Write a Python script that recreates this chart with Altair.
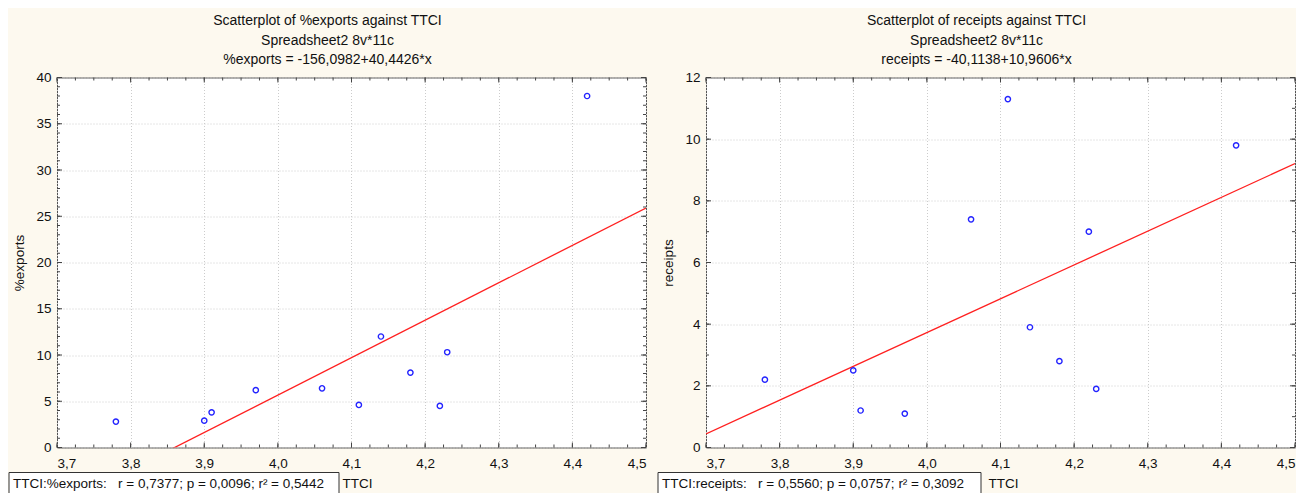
import altair as alt
import pandas as pd
import numpy as np

# ---- data ----
ttci = [3.78, 3.90, 3.91, 3.97, 4.06, 4.11, 4.14, 4.18, 4.22, 4.23, 4.42]
exports = [2.8, 2.9, 3.8, 6.2, 6.4, 4.6, 12.0, 8.1, 4.5, 10.3, 38.0]
receipts = [2.2, 2.5, 1.2, 1.1, 7.4, 11.3, 3.9, 2.8, 7.0, 1.9, 9.8]

x_major = [3.7, 3.8, 3.9, 4.0, 4.1, 4.2, 4.3, 4.4, 4.5]
x_minor = [round(v, 3) for v in np.arange(3.7, 4.5001, 0.025)]
exp_major = [0, 5, 10, 15, 20, 25, 30, 35, 40]
exp_minor = list(range(0, 41))
rec_major = [0, 2, 4, 6, 8, 10, 12]
rec_minor = list(range(0, 13))

exp_titles = ["Scatterplot of %exports against TTCI", "Spreadsheet2 8v*11c",
              "%exports = -156,0982+40,4426*x"]
rec_titles = ["Scatterplot of receipts against TTCI", "Spreadsheet2 8v*11c",
              "receipts = -40,1138+10,9606*x"]
NB = "\u00a0"
exp_stat = "TTCI:%exports:" + NB * 3 + "r = 0,7377; p = 0,0096; r\u00b2 = 0,5442"
rec_stat = "TTCI:receipts:" + NB * 3 + "r = 0,5560; p = 0,0757; r\u00b2 = 0,3092"

W, H = 589, 370
FONT = "Liberation Sans"
TICK = "#444444"
FS = 13.5


def panel(yname, yvals, ydom, ymajor, yminor, titles, stat, box_x1, xt_x):
    df = pd.DataFrame({"TTCI": ttci, yname: yvals})
    xs = alt.Scale(domain=[3.7, 4.5], nice=False, zero=False)
    ys = alt.Scale(domain=ydom, nice=False, zero=False)
    xaxis = alt.Axis(values=x_major,
                     labelExpr="replace(format(datum.value, '.1f'), '.', ',')",
                     ticks=False, domain=False, grid=True, labelPadding=9,
                     title="TTCI", titleX=xt_x, titleY=36, titleAlign="left",
                     titleBaseline="middle")
    yaxis = alt.Axis(values=ymajor, format="d", ticks=False, domain=False,
                     grid=True, labelPadding=6, title=yname,
                     titleX=-38, titleY=H / 2, titleBaseline="middle",
                     titleAlign="center")
    X = lambda: alt.X("TTCI:Q", scale=xs, axis=xaxis)
    Y = lambda: alt.Y(f"{yname}:Q", scale=ys, axis=yaxis)

    pts = alt.Chart(df).mark_point(shape="circle", filled=False, color="#2323ff",
                                   size=28, strokeWidth=1.4, opacity=1).encode(
        x=X(), y=Y())
    reg = alt.Chart(df).transform_regression(
        "TTCI", yname, extent=[3.7, 4.5]
    ).mark_line(color="#ff2020", strokeWidth=1.3, clip=True).encode(x=X(), y=Y())

    def xticks(vals, ln):
        d = pd.DataFrame({"TTCI": vals})
        b = alt.Chart(d).mark_rule(color=TICK, strokeWidth=1).encode(
            x=X(), y=alt.value(H), y2=alt.value(H - ln))
        t = alt.Chart(d).mark_rule(color=TICK, strokeWidth=1).encode(
            x=X(), y=alt.value(0), y2=alt.value(ln))
        return [b, t]

    def yticks(vals, ln):
        d = pd.DataFrame({yname: vals})
        l = alt.Chart(d).mark_rule(color=TICK, strokeWidth=1).encode(
            y=Y(), x=alt.value(0), x2=alt.value(ln))
        r = alt.Chart(d).mark_rule(color=TICK, strokeWidth=1).encode(
            y=Y(), x=alt.value(W), x2=alt.value(W - ln))
        return [l, r]

    one = pd.DataFrame({"s": [stat]})
    box = alt.Chart(one).mark_rect(fill="white", stroke="#333333",
                                   strokeWidth=1).encode(
        x=alt.value(-48), x2=alt.value(box_x1),
        y=alt.value(395), y2=alt.value(422))
    txt = alt.Chart(one).mark_text(align="left", baseline="middle", fontSize=FS,
                                   font=FONT, color="#111111").encode(
        x=alt.value(-44), y=alt.value(406), text="s:N")

    layers = ([reg, pts] + xticks(x_minor, 3) + xticks(x_major, 5)
              + yticks(yminor, 3) + yticks(ymajor, 5) + [box, txt])
    return alt.layer(*layers).properties(
        width=W, height=H,
        title=alt.TitleParams(text=titles, fontSize=14, fontWeight="normal",
                              font=FONT, lineHeight=19.5, anchor="middle",
                              frame="bounds", offset=3.5, color="#111111"),
    )


left = panel("%exports", exports, [0, 40], exp_major, exp_minor, exp_titles,
             exp_stat, 282, 285)
right = panel("receipts", receipts, [0, 12], rec_major, rec_minor, rec_titles,
              rec_stat, 275, 282)

chart = alt.hconcat(left, right, spacing=10).properties(
    padding={"left": 0, "top": 5.5, "right": 0, "bottom": 0}
).configure(
    background="#fdf9ef", font=FONT
).configure_view(
    stroke="#555555", strokeWidth=1, fill="white"
).configure_axis(
    labelFont=FONT, labelFontSize=FS, labelColor="#111111",
    titleFont=FONT, titleFontSize=FS, titleFontWeight="normal",
    titleColor="#111111", gridColor="#cccccc", gridDash=[1, 2], gridWidth=1,
)

chart.save("out.html", embed_options={"renderer": "svg", "actions": False})
